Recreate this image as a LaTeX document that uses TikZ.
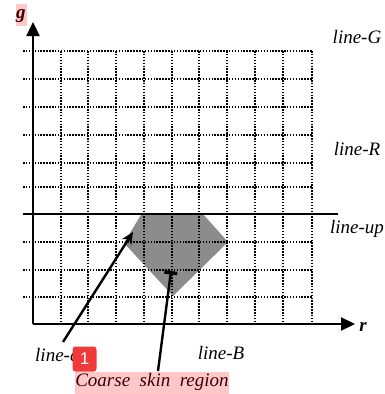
\documentclass[tikz,border=0pt]{standalone}
\usepackage{fontspec}
\setmainfont{Liberation Serif}
\newfontfamily\badgefont{Liberation Sans}
\usetikzlibrary{arrows.meta}
\definecolor{skin}{RGB}{140,140,140}
\definecolor{badgered}{RGB}{240,58,58}
\begin{document}
\begin{tikzpicture}[x=1pt,y=-1pt,
  gridline/.style={line width=1.7pt, dash pattern=on 1.5pt off 1.4pt},
  axisline/.style={line width=2.3pt},
  lbl/.style={font=\fontsize{19}{19}\selectfont\itshape, inner sep=0pt},
  axlbl/.style={font=\fontsize{19}{19}\selectfont\bfseries\itshape, inner sep=0pt},
  pointer/.style={line width=2.4pt},
  hilite/.style={fill=red, opacity=0.22}]
\useasboundingbox (0,0) rectangle (385,394);

% coarse skin region
\fill[skin] (142,213) -- (202,213) -- (228,242) -- (173,296) -- (124,243) -- cycle;

% dotted grid
\foreach \y in {51,79,107,135,163,187,242,270,297}
  \draw[gridline] (23,\y) -- (312,\y);
\foreach \x in {61,88,116,144,172,199,227,255,283,312}
  \draw[gridline] (\x,51) -- (\x,324);

% line-up
\coordinate (upL) at (23,213.5);
\coordinate (upR) at (338,213.5);
\draw[line width=2pt] (upL) -- (upR);

% axes
\coordinate (O) at (33,324);
\coordinate (gtip) at (33,22);
\coordinate (rtip) at (355,324);
\draw[axisline, -{Triangle[length=14pt,width=13pt]}] (O) -- (gtip);
\draw[axisline, -{Triangle[length=14pt,width=13pt]}] (O) -- (rtip);

\node[axlbl] (g) at (21,16) {g};
\node[axlbl] (r) at (363,327) {r};

% labels
\node[lbl] (lG) at (357,37) {line-G};
\node[lbl] (lR) at (357,149) {line-R};
\node[lbl] (lup) at (357,229) {line-up};
\node[lbl] (lB) at (221,353) {line-B};
\node[lbl, anchor=west] (lc) at (35,355) {line-c};
\node[lbl] (cs) at (152,382) {Coarse\ \ skin\ \ region};

% pointers
\coordinate (lcfrom) at (63,342);
\coordinate (lcto) at (133,232);
\draw[pointer, -{Stealth[length=12pt,width=11pt]}] (lcfrom) -- (lcto);
\coordinate (csfrom) at (158,371);
\coordinate (csto) at (171,271);
\draw[pointer, -{Bar[width=13pt,line width=3.5pt]}] (csfrom) -- (csto);

% highlights
\fill[hilite] (16,4) rectangle (27,26);
\fill[hilite] (75,372) rectangle (229,394);

% badge
\node[fill=badgered, rounded corners=3pt, minimum width=24pt, minimum height=25pt,
      inner sep=0pt, text=white, font=\badgefont\fontsize{17}{17}\selectfont] (badge) at (84.5,359) {1};
\end{tikzpicture}
\end{document}
